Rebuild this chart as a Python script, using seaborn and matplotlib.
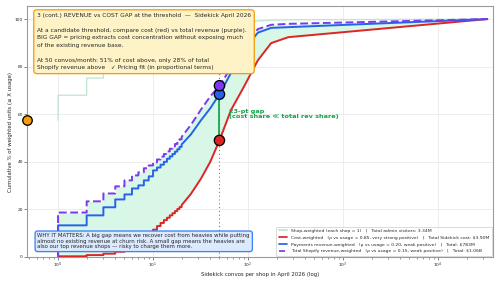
import numpy as np
import pandas as pd
import seaborn as sns
import matplotlib.pyplot as plt
from matplotlib.lines import Line2D

# ---------------- data ----------------
convos_lo = [1, 2, 3, 4, 5, 6, 7, 8, 9, 10, 11, 12, 13, 14, 15, 16, 17, 18, 19, 20]
convos_hi = [20, 25, 32, 40, 50, 66, 90, 127, 175, 265, 33000]

shop_zero = 57.5
shop_lo = [68.0, 75.2, 79.0, 82.0, 84.0, 85.5, 87.0, 88.0, 89.0, 90.0,
           90.7, 91.3, 91.9, 92.4, 92.9, 93.3, 93.7, 94.1, 94.4, 94.7]
shop_hi = [94.7, 95.5, 96.3, 97.0, 97.5, 98.2, 98.8, 99.2, 99.5, 99.7, 100.0]

cost_zero = 0.0
cost_lo = [0.3, 0.8, 1.4, 2.2, 3.1, 4.2, 5.5, 7.5, 9.5, 11.5,
           13.0, 14.3, 15.5, 16.5, 17.5, 18.4, 19.3, 20.2, 21.0, 21.8]
cost_hi = [21.8, 26.5, 33.0, 40.0, 49.0, 61.7, 71.4, 82.7, 89.9, 92.4, 100.0]

pay_zero = 0.0
pay_lo = [13.3, 17.5, 20.9, 24.2, 26.3, 28.8, 30.1, 32.2, 33.9, 36.4,
          37.6, 38.8, 40.0, 41.3, 42.3, 43.3, 44.3, 45.3, 46.3, 47.3]
pay_hi = [47.3, 51.5, 57.5, 62.5, 68.4, 77.3, 87.0, 94.3, 96.3, 96.6, 100.0]

total_zero = 0.0
total_lo = [18.7, 23.4, 26.7, 29.7, 32.2, 34.3, 35.6, 37.3, 38.5, 39.8,
            41.0, 42.2, 43.3, 44.4, 45.5, 46.5, 47.5, 48.5, 49.5, 50.5]
total_hi = [50.5, 55.5, 62.0, 67.5, 72.0, 79.5, 89.0, 95.8, 97.6, 98.0, 100.0]

threshold = 50
gap_label = "23-pt gap\n(cost share \u226a total rev share)"

legend_labels = [
    "Shop-weighted (each shop = 1)   |   Total admin visitors: 3.34M",
    "Cost-weighted   (\u03c1 vs usage = 0.85, very strong positive)   |   Total Sidekick cost: \\$3.90M",
    "Payments revenue-weighted   (\u03c1 vs usage = 0.20, weak positive)   |   Total: \\$783M",
    "Total Shopify revenue-weighted   (\u03c1 vs usage = 0.15, weak positive)   |   Total: \\$1.06B",
]

title_text = ("3 (cont.) REVENUE vs COST GAP at the threshold  \u2014  Sidekick April 2026\n\n"
              "At a candidate threshold, compare cost (red) vs total revenue (purple).\n"
              "BIG GAP = pricing extracts cost concentration without exposing much\n"
              "of the existing revenue base.\n\n"
              "At 50 convos/month: 51% of cost above, only 28% of total\n"
              "Shopify revenue above   \u2713 Pricing fit (in proportional terms)")
why_text = ("WHY IT MATTERS: A big gap means we recover cost from heavies while putting\n"
            "almost no existing revenue at churn risk. A small gap means the heavies are\n"
            "also our top revenue shops \u2014 risky to charge them more.")

# ---------------- style ----------------
sns.set_style("ticks")
plt.rcParams['font.family'] = ['DejaVu Sans']

RED = '#dc2626'
BLUE = '#2563eb'
PURPLE = '#7c3aed'
SHOP = '#bfe6d0'
FILL = '#d9f7e7'
GREEN = '#16a34a'
ORANGE = '#f59e0b'

DPI = 31.25
fig = plt.figure(figsize=(16, 9.056), dpi=DPI)
ax = fig.add_axes([27 / 500, 1 - 257 / 283, 466 / 500, 251 / 283])


def step_path(x_lo, zero, v_lo, x_hi, v_hi):
    xs, ys = [x_lo[0]], [zero]
    for i, (x, v) in enumerate(zip(x_lo, v_lo)):
        xs.append(x); ys.append(v)
        if i + 1 < len(x_lo):
            xs.append(x_lo[i + 1]); ys.append(v)
    xs += list(x_hi[1:]); ys += list(v_hi[1:])
    return np.array(xs, float), np.array(ys, float)


xs_s, ys_s = step_path(convos_lo, shop_zero, shop_lo, convos_hi, shop_hi)
xs_c, ys_c = step_path(convos_lo, cost_zero, cost_lo, convos_hi, cost_hi)
xs_p, ys_p = step_path(convos_lo, pay_zero, pay_lo, convos_hi, pay_hi)
xs_t, ys_t = step_path(convos_lo, total_zero, total_lo, convos_hi, total_hi)

ax.set_xscale('log')
XMIN, XMAX = 0.471, 37900
ax.set_xlim(XMIN, XMAX)
ax.set_ylim(0, 105.5)

ax.fill_between(xs_c, ys_c, ys_t, color=FILL, lw=0, zorder=1)

sns.lineplot(x=xs_s, y=ys_s, ax=ax, color=SHOP, lw=3, estimator=None, sort=False, legend=False, zorder=2)
sns.lineplot(x=xs_c, y=ys_c, ax=ax, color=RED, lw=4.5, estimator=None, sort=False, legend=False, zorder=3)
sns.lineplot(x=xs_p, y=ys_p, ax=ax, color=BLUE, lw=4.5, estimator=None, sort=False, legend=False, zorder=3)
sns.lineplot(x=xs_t, y=ys_t, ax=ax, color=PURPLE, lw=4.5, estimator=None, sort=False,
             legend=False, zorder=4)
ax.lines[-1].set_linestyle((0, (4, 1.8)))

ax.axvline(threshold, color='#777777', ls=(0, (1, 2.5)), lw=2.5, zorder=2)

i_thr = convos_hi.index(threshold)
c_thr, p_thr, t_thr = cost_hi[i_thr], pay_hi[i_thr], total_hi[i_thr]
ax.plot([threshold, threshold], [c_thr, t_thr], color=GREEN, lw=4, zorder=5)

dots = pd.DataFrame({'x': [threshold] * 3, 'y': [c_thr, p_thr, t_thr], 'k': ['c', 'p', 't']})
sns.scatterplot(data=dots, x='x', y='y', hue='k', palette={'c': RED, 'p': BLUE, 't': PURPLE},
                s=560, edgecolor='black', linewidth=3, ax=ax, legend=False, zorder=6)
ax.scatter([XMIN], [shop_zero], s=480, color=ORANGE, edgecolor='black', linewidth=3,
           zorder=6, clip_on=False)

ax.text(63, 60.2, gap_label, color=GREEN, fontsize=15, fontweight='bold',
        va='center', ha='left', linespacing=1.1, zorder=6)

# grid / spines / ticks
ax.grid(True, which='major', color='#ebebeb', lw=2, zorder=0)
ax.set_axisbelow(True)
for sp in ax.spines.values():
    sp.set_color('#9a9a9a')
    sp.set_linewidth(2.5)
ax.set_yticks([0, 20, 40, 60, 80, 100])
ax.tick_params(axis='both', which='major', labelsize=10, length=6, width=1.5, color='#444444')
ax.tick_params(axis='x', which='minor', length=3.5, width=1.2, color='#444444')
ax.set_xlabel("Sidekick convos per shop in April 2026 (log)", fontsize=12.5)
ax.set_ylabel("Cumulative % of weighted units (\u2264 X usage)", fontsize=12.5)

# boxes
ax.text(0.0215, 0.972, title_text, transform=ax.transAxes, ha='left', va='top',
        fontsize=13.6, linespacing=1.62, zorder=8,
        bbox=dict(boxstyle='round,pad=0.55', fc='#fef3c7', ec=ORANGE, lw=3))
ax.text(0.0225, 0.094, why_text, transform=ax.transAxes, ha='left', va='top',
        fontsize=12.3, linespacing=1.1, zorder=8,
        bbox=dict(boxstyle='round,pad=0.45', fc='#dbeafe', ec='#3b82f6', lw=3))

handles = [Line2D([], [], color=SHOP, lw=4),
           Line2D([], [], color=RED, lw=4),
           Line2D([], [], color=BLUE, lw=4),
           Line2D([], [], color=PURPLE, lw=4, ls=(0, (3.5, 1.8)))]
leg = ax.legend(handles, legend_labels, loc='lower right', fontsize=10.3, frameon=True,
                borderaxespad=0.3, handlelength=2.0, labelspacing=0.6, borderpad=0.5)
leg.get_frame().set_edgecolor('#cccccc')
leg.get_frame().set_linewidth(2)
leg.set_zorder(9)

fig.savefig('out.png', dpi=DPI)
